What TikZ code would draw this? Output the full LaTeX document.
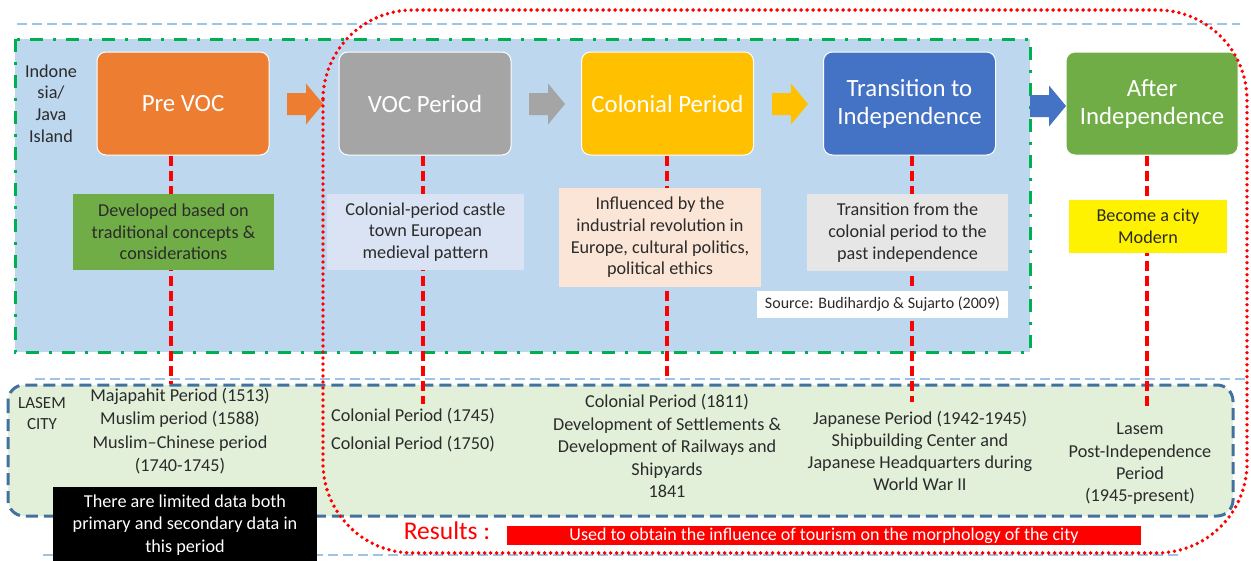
\documentclass[tikz,border=0pt]{standalone}
\usepackage{fontspec}
\setmainfont{Carlito}
\definecolor{cBoxBlue}{HTML}{BDD7EE}
\definecolor{cOrange}{HTML}{ED7D31}
\definecolor{cGray}{HTML}{A5A5A5}
\definecolor{cGold}{HTML}{FFC000}
\definecolor{cBlue}{HTML}{4472C4}
\definecolor{cGreen}{HTML}{70AD47}
\definecolor{cCastle}{HTML}{DAE3F3}
\definecolor{cPeach}{HTML}{FBE5D6}
\definecolor{cLightGray}{HTML}{E7E6E6}
\definecolor{cLasemFill}{HTML}{E2F0D9}
\definecolor{cLasemLine}{HTML}{41719C}
\definecolor{cSkyLine}{HTML}{9DC3E6}
\definecolor{cDashGreen}{HTML}{00B050}
\definecolor{cText}{HTML}{2B2B2B}
\begin{document}
\begin{tikzpicture}[x=1pt,y=-1pt,
  phase/.style={rounded corners=9pt, draw=white, line width=1pt,
    minimum width=172pt, minimum height=103pt, inner sep=0pt,
    text=white, align=center, font=\fontsize{24.8}{28}\selectfont},
  notebox/.style={inner sep=0pt, align=center, text=cText,
    font=\fontsize{18.2}{21.7}\selectfont},
  txt/.style={inner sep=0pt, align=center, text=cText,
    font=\fontsize{18.2}{22.5}\selectfont},
  redline/.style={draw=red, line width=3.2pt, dash pattern=on 10pt off 5pt},
  skyline/.style={draw=cSkyLine, line width=2.4pt, dash pattern=on 10pt off 5pt},
  reddot/.style={draw=red, line width=3.8pt, line cap=round, dash pattern=on 0pt off 6pt},
  blockarrow/.pic={\fill[#1] (0,-11) -- (19,-11) -- (19,-20.5) -- (36,0)
    -- (19,20.5) -- (19,11) -- (0,11) -- cycle;}
]
\useasboundingbox (0,0) rectangle (1251,560);
\fill[white] (0,0) rectangle (1251,560);

% Indonesia / Java frame
\draw[cDashGreen, line width=3pt, fill=cBoxBlue,
  dash pattern=on 13pt off 10pt on 3pt off 10pt] (15,39) rectangle (1030,352);

% light blue separators
\draw[skyline] (17,24) -- (1240,24);
\draw[skyline] (35,379) -- (1247,379);
\draw[skyline] (43,555) -- (1180,555);

% Lasem city frame
\draw[cLasemLine, line width=3pt, fill=cLasemFill, rounded corners=16pt,
  dash pattern=on 12pt off 6pt] (8,385) rectangle (1233,516);

% phases
\node[phase, fill=cOrange] (prevoc) at (183,103.5) {Pre VOC};
\node[phase, fill=cGray] (voc) at (425,103.5) {VOC Period};
\node[phase, fill=cGold] (colonial) at (667.5,103.5) {Colonial Period};
\node[phase, fill=cBlue] (transition) at (909.5,103.5) {Transition to\\Independence};
\node[phase, fill=cGreen] (after) at (1152,103.5) {After\\Independence};

% arrows between phases
\pic at (287,104) {blockarrow=cOrange};
\pic at (529,104) {blockarrow=cGray};
\pic at (772,104) {blockarrow=cGold};
\pic at (1030,106) {blockarrow=cBlue};

% links from phases down to Lasem
\coordinate (e1) at (171,384);
\coordinate (e2) at (423,404);
\coordinate (e3) at (667,377);
\coordinate (e4) at (912,402);
\coordinate (e5) at (1147,410);
\draw[redline] (prevoc.south -| e1) -- (e1);
\draw[redline] (voc.south -| e2) -- (e2);
\draw[redline] (colonial.south -| e3) -- (e3);
\draw[redline] (transition.south -| e4) -- (e4);
\draw[redline] (after.south -| e5) -- (e5);

\node[notebox] (java) at (51,103.5) {Indone\\sia/\\Java\\Island};

% descriptions
\node[notebox, fill=cGreen, minimum width=201pt, minimum height=76pt] (dev)
  at (173.5,232) {Developed based on\\traditional concepts \&\\considerations};
\node[notebox, fill=cCastle, minimum width=197pt, minimum height=76pt] (castle)
  at (425.5,232) {Colonial-period castle\\town European\\medieval pattern};
\node[notebox, fill=cPeach, minimum width=202pt, minimum height=99pt] (influ)
  at (660,237.5) {Influenced by the\\industrial revolution in\\Europe, cultural politics,\\political ethics};
\node[notebox, fill=cLightGray, minimum width=201pt, minimum height=77pt] (transnote)
  at (907.5,232.5) {Transition from the\\colonial period to the\\past independence};
\node[inner sep=0pt, fill=white, text=cText, minimum width=251pt, minimum height=27pt,
  font=\fontsize{16}{18}\selectfont] (source) at (882.5,304.5)
  {Source: Budihardjo \& Sujarto (2009)};
\node[notebox, fill=yellow, minimum width=158pt, minimum height=53pt] (modern)
  at (1148,226.5) {Become a city\\Modern};

% Lasem city
\node[notebox, font=\fontsize{17}{21}\selectfont] (lasem) at (42,414) {LASEM\\CITY};
\node[txt, font=\fontsize{18.2}{23.3}\selectfont] (maja) at (180,431)
  {Majapahit Period (1513)\\Muslim period (1588)\\Muslim--Chinese period\\(1740-1745)};
\node[txt, font=\fontsize{18.2}{28}\selectfont] (voclow) at (413,430)
  {Colonial Period (1745)\\Colonial Period (1750)};
\node[txt] (colow) at (667,446)
  {Colonial Period (1811)\\Development of Settlements \&\\Development of Railways and\\Shipyards\\1841};
\node[txt, font=\fontsize{18.2}{22}\selectfont] (japan) at (920,451)
  {Japanese Period (1942-1945)\\Shipbuilding Center and\\Japanese Headquarters during\\World War II};
\node[txt, font=\fontsize{18.2}{22.3}\selectfont] (postind) at (1140,464)
  {Lasem\\Post-Independence\\Period\\(1945-present)};

\node[fill=black, text=white, inner sep=0pt, align=center, minimum width=264pt,
  minimum height=76pt, font=\fontsize{18.2}{22.5}\selectfont] (limited) at (185,525)
  {There are limited data both\\primary and secondary data in\\this period};

% results
\node[inner sep=0pt, text=red, font=\fontsize{25.5}{28}\selectfont] (results)
  at (447,531) {Results :};
\node[fill=red, text=white, inner sep=0pt, minimum width=634pt, minimum height=19pt,
  font=\fontsize{18}{19}\selectfont] (resbar) at (824,535.5)
  {Used to obtain the influence of tourism on the morphology of the city};

% study scope
\draw[reddot, rounded corners=90pt] (323,10) rectangle (1247,553);
\end{tikzpicture}
\end{document}
